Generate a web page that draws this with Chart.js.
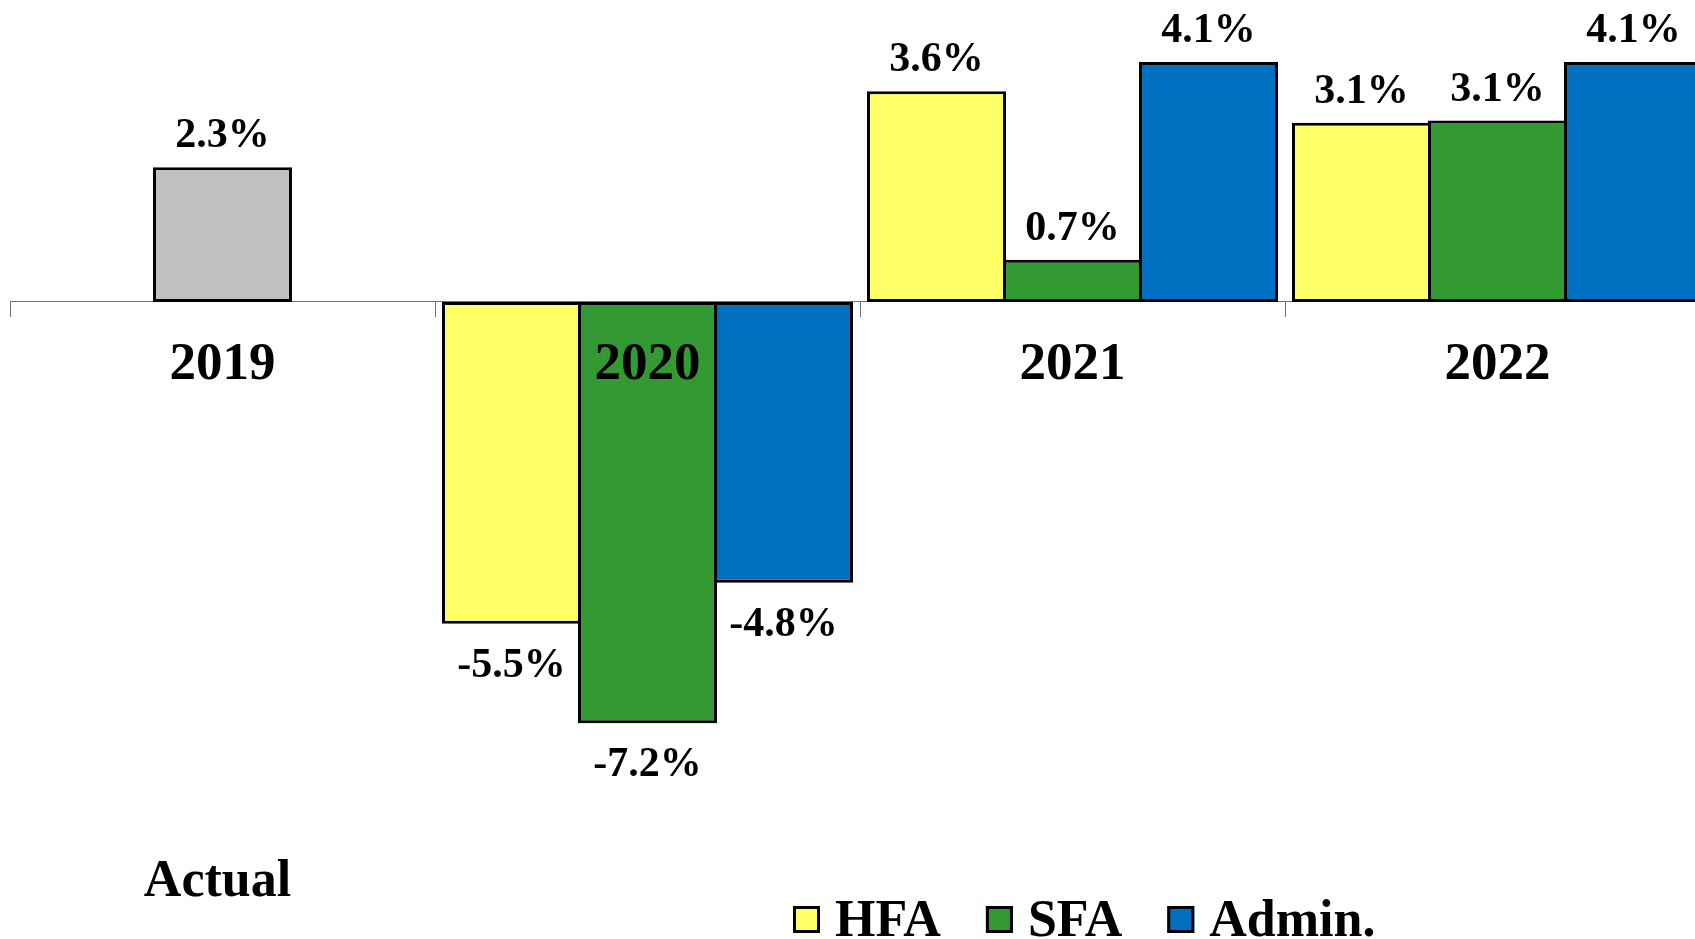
<!DOCTYPE html>
<html>
<head>
<meta charset="utf-8">
<script src="https://cdn.jsdelivr.net/npm/chart.js@4/dist/chart.umd.min.js"></script>
<style>
  html, body { margin: 0; padding: 0; background: #ffffff; overflow: hidden; }
  #wrap { width: 1695px; height: 939px; overflow: hidden; }
  canvas { display: block; }
</style>
</head>
<body>
<div id="wrap"><canvas id="c" width="1720" height="939"></canvas></div>
<script>
const categories = ['2019', '2020', '2021', '2022'];
const actualLabel = 'Actual';
const actualValues = [2.3, null, null, null];
const seriesNames = ['HFA', 'SFA', 'Admin.'];
const hfaValues = [null, -5.5, 3.6, 3.06];
const sfaValues = [null, -7.2, 0.72, 3.1];
const adminValues = [null, -4.8, 4.1, 4.1];

const FONT = "'Liberation Serif', 'Times New Roman', serif";
const colors = { actual: '#C0C0C0', hfa: '#FFFF66', sfa: '#339933', admin: '#0070C0' };

const barCommon = {
  borderColor: '#000000',
  borderWidth: 3,
  borderSkipped: false,
  skipNull: true,
  categoryPercentage: 0.96,
  barPercentage: 1.022
};

const labelsPlugin = {
  id: 'customLabels',
  afterDraw(chart) {
    const ctx = chart.ctx;
    ctx.save();
    ctx.font = "bold 42px " + FONT;
    ctx.fillStyle = '#000';
    ctx.textAlign = 'center';
    ctx.textBaseline = 'alphabetic';
    chart.data.datasets.forEach((ds, di) => {
      const meta = chart.getDatasetMeta(di);
      meta.data.forEach((el, i) => {
        const v = ds.data[i];
        if (v === null || v === undefined) return;
        const txt = v.toFixed(1) + '%';
        const y = v >= 0 ? el.y - 20 : el.y + 53;
        ctx.fillText(txt, el.x, y);
      });
    });
    const x0 = chart.scales.x.getPixelForValue(0);
    ctx.font = "bold 52px " + FONT;
    ctx.fillText(chart.data.datasets[0].label, x0 - 5, 896);
    ctx.textAlign = 'left';
    let lx = 793;
    for (let d = 1; d < chart.data.datasets.length; d++) {
      const ds = chart.data.datasets[d];
      ctx.fillStyle = ds.backgroundColor;
      ctx.fillRect(lx, 906, 27, 27);
      ctx.lineWidth = 3;
      ctx.strokeStyle = '#000';
      ctx.strokeRect(lx + 1.5, 907.5, 24, 24);
      ctx.fillStyle = '#000';
      ctx.fillText(ds.label, lx + 42, 936);
      lx = lx + 42 + ctx.measureText(ds.label).width + 45;
    }
    ctx.restore();
  }
};

new Chart(document.getElementById('c'), {
  type: 'bar',
  data: {
    labels: categories,
    datasets: [
      { label: actualLabel, data: actualValues, backgroundColor: colors.actual,
        borderColor: '#000', borderWidth: 3, borderSkipped: false, skipNull: true,
        categoryPercentage: 0.327, barPercentage: 1 },
      Object.assign({ label: seriesNames[0], data: hfaValues, backgroundColor: colors.hfa }, barCommon),
      Object.assign({ label: seriesNames[1], data: sfaValues, backgroundColor: colors.sfa }, barCommon),
      Object.assign({ label: seriesNames[2], data: adminValues, backgroundColor: colors.admin }, barCommon)
    ]
  },
  options: {
    responsive: false,
    animation: false,
    devicePixelRatio: 1,
    layout: { padding: { left: 10, right: 10, top: 0, bottom: 52 } },
    plugins: { legend: { display: false }, tooltip: { enabled: false } },
    scales: {
      x: {
        position: { y: 0 },
        offset: true,
        grid: { offset: true, drawOnChartArea: false, drawTicks: true, tickLength: 15, color: '#707070', lineWidth: 1 },
        border: { display: true, color: '#707070', width: 1 },
        ticks: { z: 1, color: '#000', padding: 17, maxRotation: 0, autoSkip: false,
                 font: { family: FONT, weight: 'bold', size: 53 } }
      },
      y: {
        display: false,
        min: -10,
        max: 5.16
      }
    }
  },
  plugins: [labelsPlugin]
});
</script>
</body>
</html>
